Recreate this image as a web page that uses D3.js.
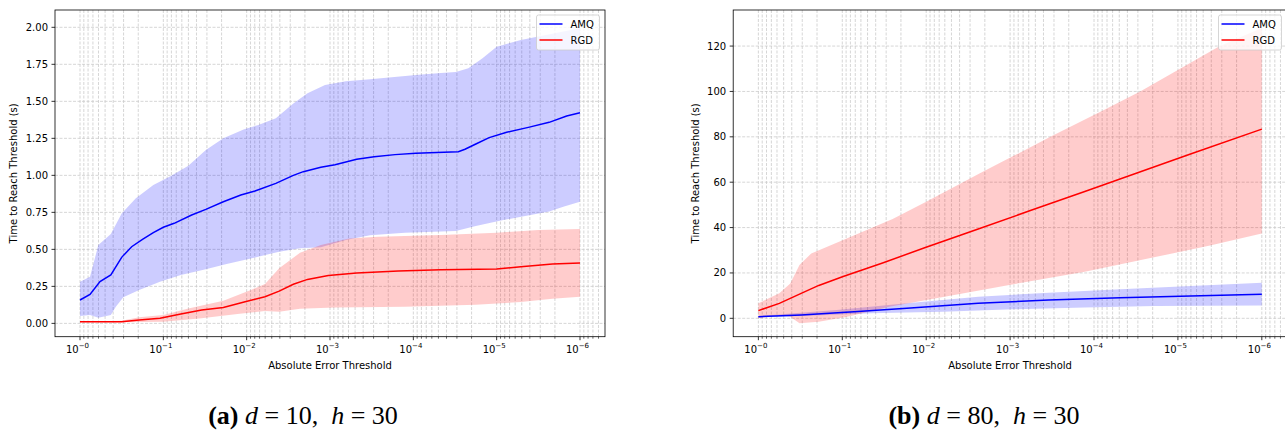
<!DOCTYPE html>
<html>
  <head>
    <meta charset="UTF-8" />
    <title>AMQ vs RGD</title>
    <script src="https://d3js.org/d3.v7.min.js"></script>
    <style>
      body { margin: 0; background: #fff; }
      text { font-family: "DejaVu Sans", sans-serif; fill: #000; }
      .caption { font-family: "Liberation Serif", "Times New Roman", serif; }
    </style>
  </head>
  <body>
    <div id="chart"></div>
    <script>
      // [log10(threshold), seconds]
      const amqMeanA = [[0, 0.158], [-0.12, 0.196], [-0.24, 0.282], [-0.37, 0.327], [-0.5, 0.446], [-0.62, 0.518], [-0.75, 0.568], [-0.88, 0.613], [-1.0, 0.649], [-1.13, 0.676], [-1.34, 0.732], [-1.51, 0.77], [-1.72, 0.822], [-1.93, 0.867], [-2.1, 0.894], [-2.35, 0.946], [-2.56, 1.0], [-2.68, 1.025], [-2.89, 1.054], [-3.06, 1.072], [-3.32, 1.108], [-3.53, 1.126], [-3.78, 1.14], [-4.03, 1.149], [-4.28, 1.155], [-4.54, 1.16], [-4.62, 1.176], [-4.75, 1.212], [-4.91, 1.255], [-5.12, 1.291], [-5.38, 1.324], [-5.63, 1.358], [-5.84, 1.401], [-6.0, 1.423]];
      const amqHighA = [[0, 0.282], [-0.12, 0.315], [-0.22, 0.529], [-0.37, 0.604], [-0.5, 0.743], [-0.67, 0.845], [-0.88, 0.935], [-1.09, 0.995], [-1.3, 1.065], [-1.51, 1.171], [-1.72, 1.25], [-1.97, 1.311], [-2.14, 1.34], [-2.35, 1.385], [-2.56, 1.486], [-2.73, 1.554], [-2.94, 1.61], [-3.19, 1.635], [-3.48, 1.649], [-3.74, 1.662], [-4.03, 1.678], [-4.33, 1.692], [-4.51, 1.698], [-4.66, 1.723], [-4.83, 1.791], [-5.0, 1.869], [-5.29, 1.914], [-5.59, 1.948], [-5.8, 1.971], [-6.0, 1.993]];
      const amqLowA = [[0, 0.05], [-0.12, 0.056], [-0.22, 0.038], [-0.37, 0.056], [-0.43, 0.113], [-0.52, 0.176], [-0.71, 0.225], [-0.96, 0.282], [-1.21, 0.327], [-1.51, 0.365], [-1.76, 0.401], [-2.05, 0.439], [-2.39, 0.484], [-2.64, 0.507], [-2.89, 0.514], [-3.19, 0.563], [-3.48, 0.595], [-3.9, 0.613], [-4.51, 0.624], [-4.75, 0.658], [-5.08, 0.698], [-5.63, 0.755], [-5.8, 0.788], [-6.0, 0.822]];
      const rgdMeanA = [[0, 0.011], [-0.5, 0.011], [-0.71, 0.023], [-0.96, 0.034], [-1.21, 0.063], [-1.46, 0.09], [-1.72, 0.108], [-1.97, 0.144], [-2.22, 0.18], [-2.39, 0.218], [-2.56, 0.264], [-2.73, 0.297], [-2.98, 0.324], [-3.32, 0.34], [-3.82, 0.354], [-4.33, 0.363], [-5.0, 0.367], [-5.29, 0.383], [-5.67, 0.401], [-6.0, 0.408]];
      const rgdHighA = [[0, 0.011], [-0.5, 0.018], [-0.71, 0.041], [-1.0, 0.056], [-1.3, 0.101], [-1.72, 0.153], [-2.05, 0.225], [-2.22, 0.266], [-2.39, 0.372], [-2.64, 0.477], [-2.89, 0.529], [-3.23, 0.574], [-3.57, 0.586], [-4.33, 0.597], [-5.0, 0.613], [-5.5, 0.631], [-6.0, 0.637]];
      const rgdLowA = [[0, 0.007], [-0.5, 0.007], [-1.0, 0.011], [-1.46, 0.034], [-1.89, 0.063], [-2.22, 0.083], [-2.39, 0.079], [-2.64, 0.099], [-3.06, 0.108], [-3.9, 0.113], [-4.75, 0.126], [-5.29, 0.144], [-5.67, 0.167], [-6.0, 0.18]];

      const amqMeanB = [[0, 0.7], [-0.51, 1.5], [-1.14, 2.9], [-1.77, 4.4], [-2.62, 6.6], [-3.46, 8.1], [-4.31, 9.1], [-5.15, 9.8], [-6.0, 10.6]];
      const amqHighB = [[0, 1.0], [-0.93, 3.7], [-1.77, 6.6], [-2.62, 9.5], [-3.46, 11.3], [-4.31, 12.8], [-5.15, 14.2], [-6.0, 15.7]];
      const amqLowB = [[0, 0.4], [-0.51, 1.0], [-1.35, 2.2], [-2.2, 2.9], [-3.04, 4.0], [-3.89, 4.8], [-4.73, 5.4], [-6.0, 5.7]];
      const rgdMeanB = [[0, 3.4], [-0.25, 6.6], [-0.38, 8.8], [-0.51, 11.0], [-0.72, 14.5], [-1.01, 18.4], [-1.48, 24.4], [-1.99, 31.2], [-2.62, 39.4], [-3.25, 47.6], [-3.89, 55.9], [-4.52, 64.2], [-5.15, 72.4], [-6.0, 83.4]];
      const rgdHighB = [[0, 6.6], [-0.25, 11.0], [-0.38, 15.4], [-0.49, 23.5], [-0.63, 28.6], [-1.01, 34.5], [-1.6, 43.8], [-2.0, 51.4], [-2.64, 63.9], [-3.48, 80.0], [-4.1, 91.5], [-4.55, 100.0], [-5.5, 120.0], [-6.0, 128.0]];
      const rgdLowB = [[0, 0.0], [-0.25, 1.5], [-0.38, 0.7], [-0.49, -2.2], [-0.72, -1.5], [-1.06, 0.7], [-1.56, 5.1], [-2.4, 10.7], [-3.04, 15.0], [-3.89, 20.5], [-4.73, 27.0], [-5.37, 32.0], [-6.0, 37.4]];

      const xTickExps = [0, -1, -2, -3, -4, -5, -6];
      const yTicksA = [0, 0.25, 0.5, 0.75, 1.0, 1.25, 1.5, 1.75, 2.0];
      const yTicksB = [0, 20, 40, 60, 80, 100, 120];
      const seriesNames = ["AMQ", "RGD"];
      const captionLabels = ["(a)", "(b)"];
      const captionD = ["10", "80"];
      const captionH = ["30", "30"];

      const colors = { AMQ: "#0000ff", RGD: "#ff0000" };
      const fills = { AMQ: "rgba(0,0,255,0.2)", RGD: "rgba(255,0,0,0.2)" };

      const panels = [
        {
          left: 55, right: 605, top: 10, bottom: 336.7,
          yDomain: [-0.09, 2.117], yTicks: yTicksA, yFormat: d3.format(".2f"),
          ylabelX: 13.3, captionX: 303,
          series: {
            AMQ: { mean: amqMeanA, high: amqHighA, low: amqLowA },
            RGD: { mean: rgdMeanA, high: rgdHighA, low: rgdLowA },
          },
        },
        {
          left: 733.2, right: 1287, top: 10, bottom: 336.7,
          yDomain: [-8.1, 135.9], yTicks: yTicksB, yFormat: d3.format("d"),
          ylabelX: 695, captionX: 984,
          series: {
            AMQ: { mean: amqMeanB, high: amqHighB, low: amqLowB },
            RGD: { mean: rgdMeanB, high: rgdHighB, low: rgdLowB },
          },
        },
      ];

      const svg = d3
        .select("#chart")
        .append("svg")
        .attr("width", 1285)
        .attr("height", 430);

      const minorTicks = [];
      for (let k = 1; k >= -7; k--) {
        for (let m = 2; m <= 9; m++) minorTicks.push(m * Math.pow(10, k));
      }

      const drawPanel = (p, i) => {
        const x = d3
          .scaleLog()
          .domain([Math.pow(10, 0.3), Math.pow(10, -6.3)])
          .range([p.left, p.right]);
        const y = d3.scaleLinear().domain(p.yDomain).range([p.bottom, p.top]);
        const minors = minorTicks.filter(
          (v) => v < x.domain()[0] && v > x.domain()[1]
        );
        const majors = xTickExps.map((e) => Math.pow(10, e));

        const g = svg.append("g");
        const clipId = `clip-${i}`;
        g.append("clipPath")
          .attr("id", clipId)
          .append("rect")
          .attr("x", p.left)
          .attr("y", p.top)
          .attr("width", p.right - p.left)
          .attr("height", p.bottom - p.top);

        const grid = g.append("g").attr("clip-path", `url(#${clipId})`);
        grid
          .selectAll("line.vx")
          .data(majors.concat(minors))
          .enter()
          .append("line")
          .attr("x1", (d) => x(d))
          .attr("x2", (d) => x(d))
          .attr("y1", p.top)
          .attr("y2", p.bottom)
          .attr("stroke", "#cccccc")
          .attr("stroke-width", 0.8)
          .attr("stroke-dasharray", "3,1.5");
        grid
          .selectAll("line.hy")
          .data(p.yTicks)
          .enter()
          .append("line")
          .attr("x1", p.left)
          .attr("x2", p.right)
          .attr("y1", (d) => y(d))
          .attr("y2", (d) => y(d))
          .attr("stroke", "#cccccc")
          .attr("stroke-width", 0.8)
          .attr("stroke-dasharray", "3,1.5");

        const line = d3
          .line()
          .x((d) => x(Math.pow(10, d[0])))
          .y((d) => y(d[1]));

        const plot = g.append("g").attr("clip-path", `url(#${clipId})`);
        seriesNames.forEach((name) => {
          const s = p.series[name];
          plot
            .append("path")
            .attr("d", line(s.high.concat(s.low.slice().reverse())) + "Z")
            .attr("fill", fills[name])
            .attr("stroke", "none");
        });
        seriesNames.forEach((name) => {
          plot
            .append("path")
            .attr("d", line(p.series[name].mean))
            .attr("fill", "none")
            .attr("stroke", colors[name])
            .attr("stroke-width", 1.5);
        });

        // spines
        g.append("rect")
          .attr("x", p.left)
          .attr("y", p.top)
          .attr("width", p.right - p.left)
          .attr("height", p.bottom - p.top)
          .attr("fill", "none")
          .attr("stroke", "#000")
          .attr("stroke-width", 0.8);

        // x ticks
        g.selectAll("line.xmin")
          .data(minors)
          .enter()
          .append("line")
          .attr("x1", (d) => x(d))
          .attr("x2", (d) => x(d))
          .attr("y1", p.bottom)
          .attr("y2", p.bottom + 2)
          .attr("stroke", "#000")
          .attr("stroke-width", 0.6);
        g.selectAll("line.xmaj")
          .data(majors)
          .enter()
          .append("line")
          .attr("x1", (d) => x(d))
          .attr("x2", (d) => x(d))
          .attr("y1", p.bottom)
          .attr("y2", p.bottom + 3.5)
          .attr("stroke", "#000")
          .attr("stroke-width", 0.8);
        const xl = g
          .selectAll("text.xl")
          .data(xTickExps)
          .enter()
          .append("text")
          .attr("x", (d) => x(Math.pow(10, d)) - 2.5)
          .attr("y", p.bottom + 16)
          .attr("text-anchor", "middle")
          .attr("font-size", 10);
        xl.append("tspan").text("10");
        xl.append("tspan")
          .attr("dy", -4.5)
          .attr("font-size", 7)
          .text((d) => "\u2212" + Math.abs(d));

        // y ticks
        g.selectAll("line.yt")
          .data(p.yTicks)
          .enter()
          .append("line")
          .attr("x1", p.left - 3.5)
          .attr("x2", p.left)
          .attr("y1", (d) => y(d))
          .attr("y2", (d) => y(d))
          .attr("stroke", "#000")
          .attr("stroke-width", 0.8);
        g.selectAll("text.yl")
          .data(p.yTicks)
          .enter()
          .append("text")
          .attr("x", p.left - 7)
          .attr("y", (d) => y(d))
          .attr("dy", "0.35em")
          .attr("text-anchor", "end")
          .attr("font-size", 10)
          .text(p.yFormat);

        g.append("text")
          .attr("x", (p.left + p.right) / 2)
          .attr("y", p.bottom + 32)
          .attr("text-anchor", "middle")
          .attr("font-size", 10)
          .text("Absolute Error Threshold");
        g.append("text")
          .attr("transform", `translate(${p.ylabelX},${(p.top + p.bottom) / 2}) rotate(-90)`)
          .attr("text-anchor", "middle")
          .attr("dy", "0.35em")
          .attr("font-size", 10)
          .text("Time to Reach Threshold (s)");

        // legend
        const lg = g
          .append("g")
          .attr("transform", `translate(${p.right - 68.5},${p.top + 5})`);
        lg.append("rect")
          .attr("width", 63)
          .attr("height", 35)
          .attr("rx", 2)
          .attr("fill", "rgba(255,255,255,0.8)")
          .attr("stroke", "#cccccc")
          .attr("stroke-width", 0.8);
        seriesNames.forEach((name, j) => {
          lg.append("line")
            .attr("x1", 3)
            .attr("x2", 26)
            .attr("y1", 9 + j * 16)
            .attr("y2", 9 + j * 16)
            .attr("stroke", colors[name])
            .attr("stroke-width", 1.5);
          lg.append("text")
            .attr("x", 34)
            .attr("y", 9 + j * 16)
            .attr("dy", "0.35em")
            .attr("font-size", 10)
            .text(name);
        });

        // caption
        const cap = svg
          .append("text")
          .attr("class", "caption")
          .attr("x", p.captionX)
          .attr("y", 424)
          .attr("text-anchor", "middle")
          .attr("font-size", 26);
        cap.append("tspan").attr("font-weight", "bold").text(captionLabels[i]);
        cap.append("tspan").text("\u00a0");
        cap.append("tspan").attr("font-style", "italic").text("d");
        cap.append("tspan").text(`\u00a0=\u00a0${captionD[i]},\u00a0\u00a0`);
        cap.append("tspan").attr("font-style", "italic").text("h");
        cap.append("tspan").text(`\u00a0=\u00a0${captionH[i]}`);
      };

      panels.forEach(drawPanel);
    </script>
  </body>
</html>
